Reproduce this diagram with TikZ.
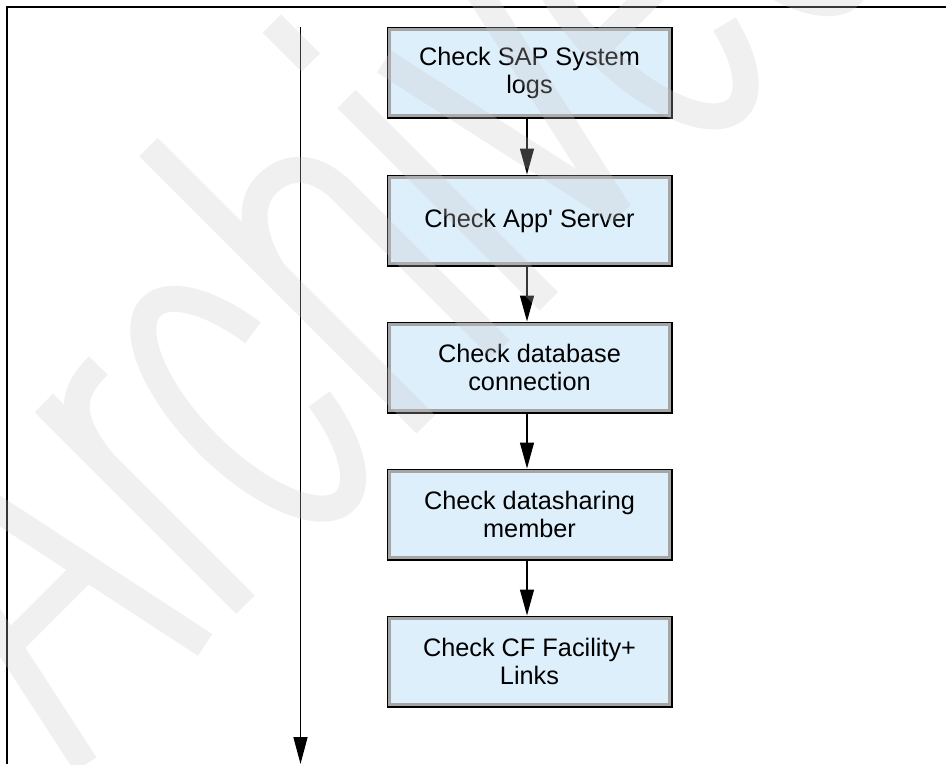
\documentclass[tikz,border=0pt]{standalone}
\usepackage{fontspec}
\newfontfamily\boxfont{Liberation Sans}
\usetikzlibrary{arrows.meta}
\definecolor{boxblue}{RGB}{222,239,252}
\definecolor{bandgray}{RGB}{165,165,165}
\definecolor{wmgray}{RGB}{200,200,200}
\begin{document}
\begin{tikzpicture}[x=1pt,y=-1pt,
  stepbox/.style={draw=black, line width=2pt, fill=boxblue, minimum width=284pt, minimum height=90pt,
    inner sep=0pt, align=center, font=\boxfont\fontsize{25.3pt}{28pt}\selectfont},
  band/.style={draw=bandgray, line width=2.6pt},
  conn/.style={draw=black, line width=1.3pt, -{Triangle[length=26pt,width=14pt]}},
  timeline/.style={draw=black, line width=1.5pt, -{Triangle[length=27pt,width=14pt]}},
  frameline/.style={draw=black, line width=1.8pt},
  wm/.style={draw=wmgray, draw opacity=0.27, line width=26pt, line join=bevel, line cap=butt}
]
\useasboundingbox (0,0) rectangle (946,764);
\fill[white] (0,0) rectangle (946,764);

% boxes
\node[stepbox] (b1) at (529.5,72.5) {Check SAP System\\logs};
\node[stepbox] (b2) at (529.5,220.5) {Check App' Server};
\node[stepbox] (b3) at (529.5,367.5) {Check database\\connection};
\node[stepbox] (b4) at (529.5,514.5) {Check datasharing\\member};
\node[stepbox] (b5) at (529.5,661.5) {Check CF Facility+\\Links};

\foreach \n in {b1,b2,b3,b4,b5}
  \draw[band] ([shift={(2.8,2.8)}]\n.north west) rectangle ([shift={(-2.8,-2.8)}]\n.south east);

% connectors
\draw[conn] ([xshift=-2.5pt]b1.south) -- ([xshift=-2.5pt]b2.north);
\draw[conn] ([xshift=-2.5pt]b2.south) -- ([xshift=-2.5pt]b3.north);
\draw[conn] ([xshift=-2.5pt]b3.south) -- ([xshift=-2.5pt]b4.north);
\draw[conn] ([xshift=-2.5pt]b4.south) -- ([xshift=-2.5pt]b5.north);

% time line
\coordinate (t0) at (300.5,27);
\coordinate (t1) at (300.5,764);
\draw[timeline] (t0) -- (t1);

% frame (top and left edges)
\coordinate (f0) at (7,764);
\coordinate (f1) at (7,7);
\coordinate (f2) at (946,7);
\draw[frameline] (f0) -- (f1) -- (f2);

% watermark
\begin{scope}
\clip (0,0) rectangle (946,764);
\begin{scope}[shift={(425pt,-425pt)}, x={(0.70711pt,0.70711pt)}, y={(-0.70711pt,0.70711pt)}]
\draw[wm]
  % A
  (-480,0) -- (-395,400) -- (-311,0)
  (-451,138) -- (-339,138)
  % r
  (-254,0) -- (-254,285)
  (-254,200) .. controls (-248,262) and (-225,273) .. (-189,273)
  % c
  (-56.4,186.9) arc[start angle=20, end angle=340, x radius=57, y radius=137]
  % h
  (1,0) -- (1,392)
  (1,215) .. controls (12,262) and (35,282) .. (58,282) .. controls (88,282) and (107,262) .. (107,222) -- (107,0)
  % i
  (175,0) -- (175,286)
  (175.5,337) -- (175.5,392)
  % v
  (228,286) -- (288,13) -- (348,286)
  % e
  (387,145) -- (503,145) arc[start angle=2, end angle=330, x radius=58, y radius=137]
  % d (bowl)
  (662,140) arc[start angle=0, end angle=360, x radius=57, y radius=137];
\end{scope}
\end{scope}
\end{tikzpicture}
\end{document}
